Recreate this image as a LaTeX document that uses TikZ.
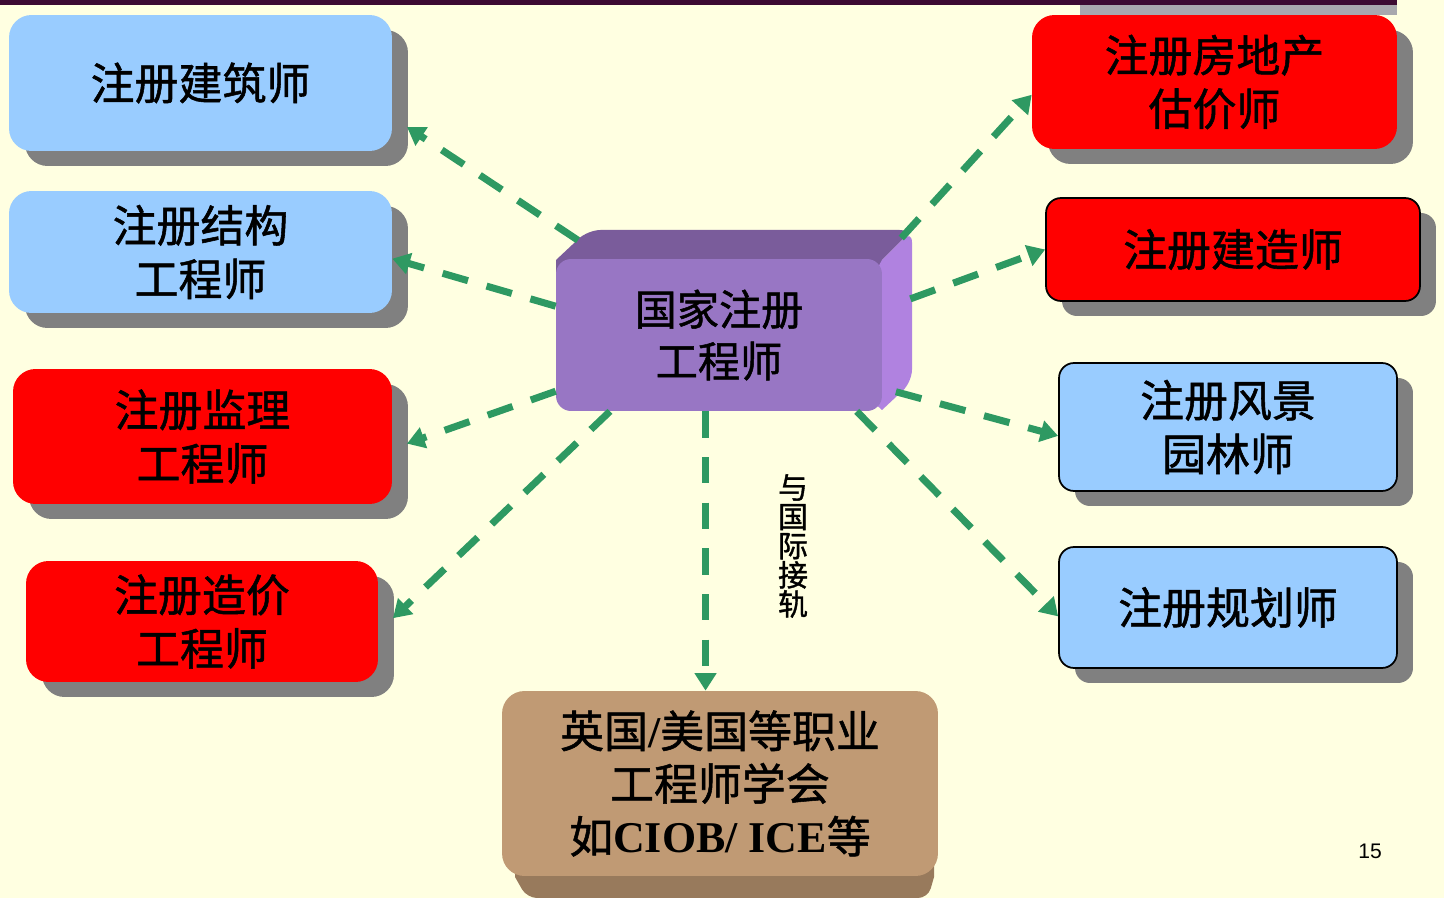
\documentclass[tikz,border=0pt]{standalone}
\usepackage{fontspec}
\setmainfont{Liberation Serif}
\setsansfont{Liberation Sans}
\newfontfamily\cjk{Noto Sans CJK SC}[FakeBold=1.2]
\usetikzlibrary{arrows.meta,shadows}
\definecolor{bgcream}{RGB}{255,255,225}
\definecolor{skyblue}{RGB}{153,204,255}
\definecolor{purered}{RGB}{255,0,0}
\definecolor{shadowgray}{RGB}{128,128,128}
\definecolor{linkgreen}{RGB}{46,153,98}
\definecolor{purplefront}{RGB}{152,118,196}
\definecolor{purpletop}{RGB}{122,92,155}
\definecolor{purpleside}{RGB}{176,130,224}
\definecolor{tanfront}{RGB}{192,154,116}
\definecolor{tanbottom}{RGB}{152,122,92}
\definecolor{topline}{RGB}{60,10,50}
\definecolor{toppatch}{RGB}{168,168,174}

\begin{document}
\begin{tikzpicture}[x=0.02cm,y=-0.02cm]
		\tikzset{box/.style = {rounded corners=0.45cm, inner sep=0pt, align=center,
				font=\cjk\fontsize{25}{30.5}\selectfont,
				drop shadow={shadow xshift=0.32cm, shadow yshift=-0.3cm, fill=shadowgray, opacity=1}}}
		\tikzset{bluebox/.style = {box, fill=skyblue}}
		\tikzset{redbox/.style = {box, fill=purered}}
		\tikzset{framed/.style = {draw=black, line width=1pt, rounded corners=0.3cm}}
		\tikzset{edge/.style = {-{Triangle[length=10pt,width=12pt]}, draw=linkgreen,
				line width=4pt, dash pattern=on 15pt off 11pt}}
		
		\useasboundingbox (0,0) rectangle (1444,898);
		\fill[bgcream] (0,0) rectangle (1444,898);
		\fill[topline] (0,0) rectangle (1397,5);
		\fill[toppatch] (1080,5) rectangle (1397,15);
		
		\fill[purpletop] (556,290) -- (556,260) [rounded corners=0.25cm] -- (588,230) -- (912,230) [sharp corners] -- (882,260) -- (882,290) -- cycle;
		\fill[purpleside] (860,300) -- (882,260) [rounded corners=0.25cm] -- (912,230) -- (912,382) [sharp corners] -- (882,410) -- (860,390) -- cycle;
		\fill[tanbottom] (515,850) -- (515,877) [rounded corners=0.2cm] -- (527,898) -- (928,898) [sharp corners] -- (934,877) -- (934,850) -- cycle;
		
		\node[bluebox, minimum width=7.66cm, minimum height=2.72cm, outer xsep=0.3cm] (arch)   at (200.5,  83) {注册建筑师};
		\node[bluebox, minimum width=7.66cm, minimum height=2.44cm]                   (struct) at (200.5, 252) {注册结构\\工程师};
		\node[redbox,  minimum width=7.58cm, minimum height=2.70cm, outer xsep=0.3cm] (super)  at (202.5, 436.5) {注册监理\\工程师};
		\node[redbox,  minimum width=7.04cm, minimum height=2.42cm, outer xsep=0.3cm] (cost)   at (202,   621.5) {注册造价\\工程师};
		\node[redbox,  minimum width=7.30cm, minimum height=2.68cm]                   (estate) at (1214.5, 82) {注册房地产\\估价师};
		\node[redbox,  framed, minimum width=7.48cm, minimum height=2.06cm]           (constr) at (1233,  249.5) {注册建造师};
		\node[bluebox, framed, minimum width=6.76cm, minimum height=2.56cm]           (land)   at (1228,  427) {注册风景\\园林师};
		\node[bluebox, framed, minimum width=6.76cm, minimum height=2.42cm]           (plan)   at (1228,  607.5) {注册规划师};
		
		\node[fill=purplefront, rounded corners=0.3cm, inner sep=0pt, align=center,
			font=\cjk\fontsize{24}{29.5}\selectfont,
			minimum width=6.52cm, minimum height=3.04cm] (cen) at (719, 335) {国家注册\\工程师};
		\node[fill=tanfront, rounded corners=0.45cm, inner sep=0pt, align=center,
			font=\cjk\fontsize{25}{30}\selectfont,
			minimum width=8.72cm, minimum height=3.7cm] (bot) at (720, 783.5)
			{英国{\rmfamily\bfseries /}美国等职业\\工程师学会\\如{\rmfamily\bfseries CIOB/ ICE}等};
		
		\node[align=center, inner sep=0pt, font=\cjk\fontsize{17}{16.6}\selectfont] (intl) at (793, 546) {与\\国\\际\\接\\轨};
		\node[inner sep=0pt, font=\sffamily\fontsize{12}{14}\selectfont] (page) at (1370, 851) {15};
		
		\draw[edge, shorten <=19pt] (cen.146.5) to (arch.-12.4);
		\draw[edge] (cen.170.6) to (struct.-2.4);
		\draw[edge] (cen.199.6) to (super.-2.1);
		\draw[edge] (cen.215.6) to (cost.1.6);
		\draw[edge] (cen.260.3) to (cen.260.3 |- bot.north);
		\draw[edge, shorten <=16pt] (cen.25.5) to (estate.184.1);
		\draw[edge, shorten <=17pt] (cen.9.1) to (constr.180.5);
		\draw[edge, shorten <=8pt] (cen.-18.3) to (land.183.2);
		\draw[edge] (cen.-29.7) to (plan.183.6);
		\end{tikzpicture}
\end{document}
